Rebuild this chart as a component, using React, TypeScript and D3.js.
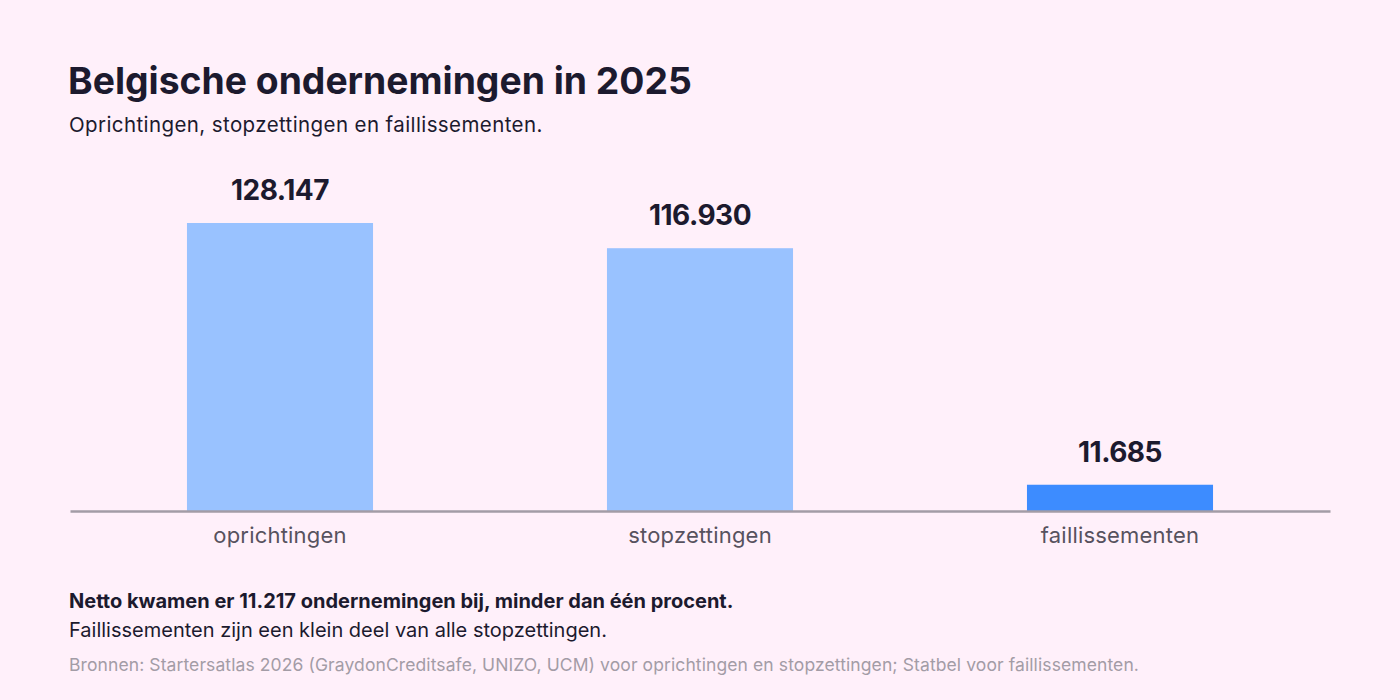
import * as d3 from 'd3';
import React, { useEffect, useRef } from 'react';

// Chart data
const categories = ["oprichtingen", "stopzettingen", "faillissementen"];
const values = [128147, 116930, 11685];
const highlighted = [false, false, true];

const title = "Belgische ondernemingen in 2025";
const subtitle = "Oprichtingen, stopzettingen en faillissementen.";
const noteBold = "Netto kwamen er 11.217 ondernemingen bij, minder dan één procent.";
const note = "Faillissementen zijn een klein deel van alle stopzettingen.";
const source = "Bronnen: Startersatlas 2026 (GraydonCreditsafe, UNIZO, UCM) voor oprichtingen en stopzettingen; Statbel voor faillissementen.";

const BusinessChart: React.FC = () => {
  const ref = useRef<SVGSVGElement>(null);

  useEffect(() => {
    if (!ref.current) return;
    document.body.style.margin = "0";

    const svg = d3.select(ref.current);
    svg.selectAll("*").remove();

    const width = 1400;
    const height = 700;
    const font = "Inter, 'Noto Sans', sans-serif";
    const dark = "#1c1a2e";

    svg.attr("width", width).attr("height", height);

    svg.append("rect")
      .attr("width", width)
      .attr("height", height)
      .attr("fill", "#fff0fa");

    // Titles
    svg.append("text")
      .attr("x", 68)
      .attr("y", 94)
      .style("font", `700 37.3px ${font}`)
      .style("letter-spacing", "0px")
      .attr("fill", dark)
      .text(title);

    svg.append("text")
      .attr("x", 69)
      .attr("y", 132)
      .style("font", `400 20.5px ${font}`)
      .style("letter-spacing", "0.4px")
      .attr("fill", dark)
      .text(subtitle);

    // Scales
    const baseline = 511;
    const x = d3.scaleBand()
      .domain(categories)
      .range([70, 1330])
      .paddingInner(0.557)
      .paddingOuter(0.2785);

    const y = d3.scaleLinear()
      .domain([0, d3.max(values) as number])
      .range([baseline, 223]);

    const fmt = d3.formatLocale({ decimal: ",", thousands: ".", grouping: [3], currency: ["€", ""] }).format(",d");

    const data = categories.map((c, i) => ({ c, v: values[i], h: highlighted[i] }));

    // Bars
    svg.selectAll(".bar")
      .data(data)
      .enter().append("rect")
      .attr("class", "bar")
      .attr("x", d => x(d.c) as number)
      .attr("y", d => y(d.v))
      .attr("width", x.bandwidth())
      .attr("height", d => baseline - y(d.v))
      .attr("fill", d => d.h ? "#3d8cff" : "#99c2ff");

    // Value labels
    svg.selectAll(".val")
      .data(data)
      .enter().append("text")
      .attr("class", "val")
      .attr("x", d => (x(d.c) as number) + x.bandwidth() / 2)
      .attr("y", d => y(d.v) - 23)
      .attr("text-anchor", "middle")
      .style("font", `700 28px ${font}`)
      .style("letter-spacing", "-0.5px")
      .attr("fill", dark)
      .text(d => fmt(d.v));

    // X axis
    const axis = svg.append("g")
      .attr("transform", `translate(0,${baseline})`)
      .call(d3.axisBottom(x).tickSize(0).tickPadding(16));
    axis.select(".domain")
      .attr("stroke", "#a39ca6")
      .attr("stroke-width", 2.5);
    axis.selectAll("text")
      .style("font", `400 22px ${font}`)
      .style("letter-spacing", "0.2px")
      .attr("fill", "#57525e");

    // Notes
    svg.append("text")
      .attr("x", 69)
      .attr("y", 608)
      .style("font", `700 20px ${font}`)
      .style("letter-spacing", "0px")
      .attr("fill", dark)
      .text(noteBold);

    svg.append("text")
      .attr("x", 69)
      .attr("y", 637)
      .style("font", `400 20px ${font}`)
      .attr("fill", dark)
      .text(note);

    svg.append("text")
      .attr("x", 69)
      .attr("y", 671)
      .style("font", `400 17.5px ${font}`)
      .style("letter-spacing", "0.1px")
      .attr("fill", "#a39ca6")
      .text(source);
  }, []);

  return <svg ref={ref}></svg>;
};

export default function App() {
  return <BusinessChart />;
}
